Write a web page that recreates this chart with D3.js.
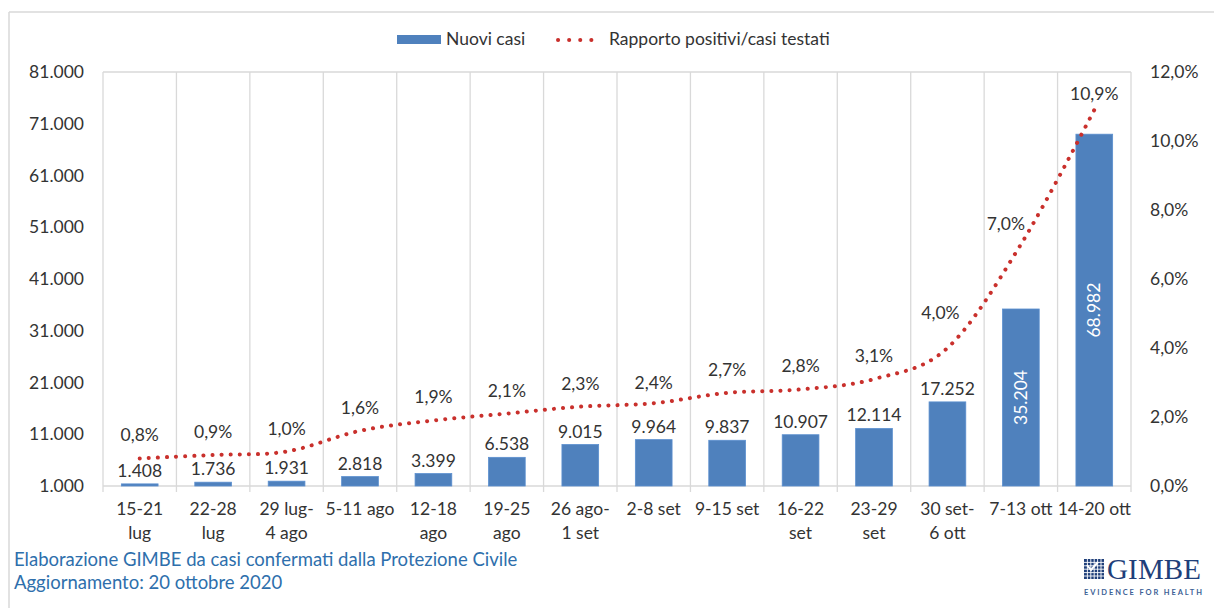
<!DOCTYPE html>
<html>
<head>
<meta charset="utf-8">
<script src="https://cdn.jsdelivr.net/npm/d3@7"></script>
<style>
  body { margin: 0; background: #fff; }
  svg text { font-family: Lato, "Open Sans", sans-serif; }
</style>
</head>
<body>
<svg id="chart" width="1214" height="608"></svg>
<script>
// dati
var settimane = ["15-21|lug", "22-28|lug", "29 lug-|4 ago", "5-11 ago", "12-18|ago", "19-25|ago",
  "26 ago-|1 set", "2-8 set", "9-15 set", "16-22|set", "23-29|set", "30 set-|6 ott", "7-13 ott", "14-20 ott"];
var nuoviCasi = [1408, 1736, 1931, 2818, 3399, 6538, 9015, 9964, 9837, 10907, 12114, 17252, 35204, 68982];
var rapporto = [0.8, 0.9, 1.0, 1.6, 1.9, 2.1, 2.3, 2.4, 2.7, 2.8, 3.1, 4.0, 7.0, 10.9];
var tickSx = [1000, 11000, 21000, 31000, 41000, 51000, 61000, 71000, 81000];
var tickDx = [0, 2, 4, 6, 8, 10, 12];

var blu = "#4f81bd", rosso = "#c9302c", testo = "#333", griglia = "#d9d9d9";
var fs = "17.5px";

var svg = d3.select("#chart");
var pLeft = 103, pRight = 1131, pTop = 72, pBottom = 486;

// cornice
svg.append("line").attr("x1", 9).attr("x2", 1214).attr("y1", 12).attr("y2", 12)
  .attr("stroke", griglia).attr("stroke-width", 1.5);
svg.append("line").attr("x1", 9).attr("x2", 9).attr("y1", 12).attr("y2", 608)
  .attr("stroke", griglia).attr("stroke-width", 1.5);

var x = d3.scaleBand().domain(settimane).range([pLeft, pRight]).padding(0);
var y = d3.scaleLinear().domain([1000, 81000]).range([pBottom, pTop]);
var y2 = d3.scaleLinear().domain([0, 12]).range([pBottom, pTop]);

var fmtNum = function (v) { return d3.format(",")(v).replace(/,/g, "."); };
var fmtPct = function (v) { return d3.format(".1f")(v).replace(".", ",") + "%"; };

// griglia verticale
var bordi = settimane.map(function (d) { return x(d); }).concat([pRight]);
svg.append("g").selectAll("line").data(bordi).enter().append("line")
  .attr("x1", function (d) { return d; }).attr("x2", function (d) { return d; })
  .attr("y1", pTop).attr("y2", pBottom + 6)
  .attr("stroke", griglia).attr("stroke-width", 1.3);
svg.append("line").attr("x1", pLeft).attr("x2", pRight).attr("y1", pTop).attr("y2", pTop)
  .attr("stroke", griglia).attr("stroke-width", 1.3);
svg.append("line").attr("x1", pLeft).attr("x2", pRight).attr("y1", pBottom).attr("y2", pBottom)
  .attr("stroke", griglia).attr("stroke-width", 1.5);

// asse sinistro
svg.append("g").selectAll("text").data(tickSx).enter().append("text")
  .attr("x", 84).attr("y", function (d) { return y(d); })
  .attr("dy", "0.35em").attr("text-anchor", "end")
  .style("font-size", fs).attr("fill", testo)
  .text(fmtNum);

// asse destro
svg.append("g").selectAll("text").data(tickDx).enter().append("text")
  .attr("x", 1150).attr("y", function (d) { return y2(d); })
  .attr("dy", "0.35em")
  .style("font-size", fs).attr("fill", testo)
  .text(fmtPct);

// etichette categorie
var cat = svg.append("g").selectAll("text").data(settimane).enter().append("text")
  .attr("x", function (d) { return x(d) + x.bandwidth() / 2; })
  .attr("y", 515).attr("text-anchor", "middle")
  .style("font-size", fs).attr("fill", testo);
cat.selectAll("tspan").data(function (d) { return d.split("|"); }).enter().append("tspan")
  .attr("x", function () { var p = this.parentNode.__data__; return x(p) + x.bandwidth() / 2; })
  .attr("dy", function (d, i) { return i == 0 ? 0 : 24; })
  .text(function (d) { return d; });

// barre
var bw = x.bandwidth() * 0.5;
svg.append("g").selectAll("rect").data(nuoviCasi).enter().append("rect")
  .attr("x", function (d, i) { return x(settimane[i]) + (x.bandwidth() - bw) / 2; })
  .attr("y", function (d) { return y(d); })
  .attr("width", bw)
  .attr("height", function (d) { return pBottom - y(d); })
  .attr("fill", blu)
  .attr("stroke", "#5b8fcf").attr("stroke-width", 0.8);

// valori barre
svg.append("g").selectAll("text").data(nuoviCasi).enter().append("text")
  .attr("transform", function (d, i) {
    var cx = x(settimane[i]) + x.bandwidth() / 2;
    if (d > 30000) {
      var cy = (y(d) + pBottom) / 2;
      return "translate(" + (cx + 6) + "," + cy + ") rotate(-90)";
    }
    return "translate(" + cx + "," + (y(d) - 7) + ")";
  })
  .attr("text-anchor", "middle")
  .style("font-size", fs)
  .attr("fill", function (d) { return d > 30000 ? "#fff" : testo; })
  .text(fmtNum);

// linea rapporto
var linea = d3.line()
  .x(function (d, i) { return x(settimane[i]) + x.bandwidth() / 2; })
  .y(function (d) { return y2(d); })
  .curve(d3.curveCardinal.tension(0));
svg.append("path").datum(rapporto)
  .attr("d", linea)
  .attr("fill", "none")
  .attr("stroke", rosso)
  .attr("stroke-width", 4)
  .attr("stroke-linecap", "round")
  .attr("stroke-dasharray", "0.1 9");

// etichette rapporto (spostamenti come nell'originale)
var sposta = { 7: [0, 3], 11: [-7, -12], 12: [-15, 2], 13: [0, 7] };
svg.append("g").selectAll("text").data(rapporto).enter().append("text")
  .attr("x", function (d, i) { return x(settimane[i]) + x.bandwidth() / 2 + (sposta[i] ? sposta[i][0] : 0); })
  .attr("y", function (d, i) { return y2(d) - 17 + (sposta[i] ? sposta[i][1] : 0); })
  .attr("text-anchor", "middle")
  .style("font-size", fs).attr("fill", testo)
  .text(fmtPct);

// legenda
var leg = svg.append("g");
leg.append("rect").attr("x", 397).attr("y", 35).attr("width", 44).attr("height", 9).attr("fill", blu);
leg.append("text").attr("x", 446).attr("y", 45).style("font-size", fs).attr("fill", testo).text("Nuovi casi");
leg.append("line").attr("x1", 558).attr("x2", 602).attr("y1", 40).attr("y2", 40)
  .attr("stroke", rosso).attr("stroke-width", 4).attr("stroke-linecap", "round").attr("stroke-dasharray", "0.1 11");
leg.append("text").attr("x", 609).attr("y", 45).style("font-size", fs).attr("fill", testo).text("Rapporto positivi/casi testati");

// fonte
svg.append("text").attr("x", 14).attr("y", 566).style("font-size", "18.5px").attr("fill", "#2e6fac")
  .text("Elaborazione GIMBE da casi confermati dalla Protezione Civile");
svg.append("text").attr("x", 14).attr("y", 589).style("font-size", "18.5px").attr("fill", "#2e6fac")
  .text("Aggiornamento: 20 ottobre 2020");

// logo GIMBE
var logo = svg.append("g");
logo.append("rect").attr("x", 1084).attr("y", 559).attr("width", 20).attr("height", 20).attr("fill", "#1f3f7a");
var grigliaLogo = d3.range(1, 6);
logo.selectAll(".gv").data(grigliaLogo).enter().append("line")
  .attr("x1", function (d) { return 1084 + d * 3.4; }).attr("x2", function (d) { return 1084 + d * 3.4; })
  .attr("y1", 559).attr("y2", 579).attr("stroke", "#fff").attr("stroke-width", 0.9);
logo.selectAll(".gh").data(grigliaLogo).enter().append("line")
  .attr("y1", function (d) { return 559 + d * 3.4; }).attr("y2", function (d) { return 559 + d * 3.4; })
  .attr("x1", 1084).attr("x2", 1104).attr("stroke", "#fff").attr("stroke-width", 0.9);
logo.append("path").attr("d", "M1087,565 L1091,570 L1098,562").attr("fill", "none")
  .attr("stroke", "#fff").attr("stroke-width", 2);
logo.append("text").attr("x", 1107).attr("y", 579)
  .style("font-family", "'Liberation Serif', 'DejaVu Serif', serif").style("font-size", "29px")
  .attr("fill", "#1f3f7a").attr("textLength", 94).text("GIMBE");
logo.append("text").attr("x", 1084).attr("y", 595)
  .style("font-size", "7.5px").style("font-weight", "bold").attr("fill", "#3d5f96")
  .attr("textLength", 118).text("EVIDENCE FOR HEALTH");
</script>
</body>
</html>
